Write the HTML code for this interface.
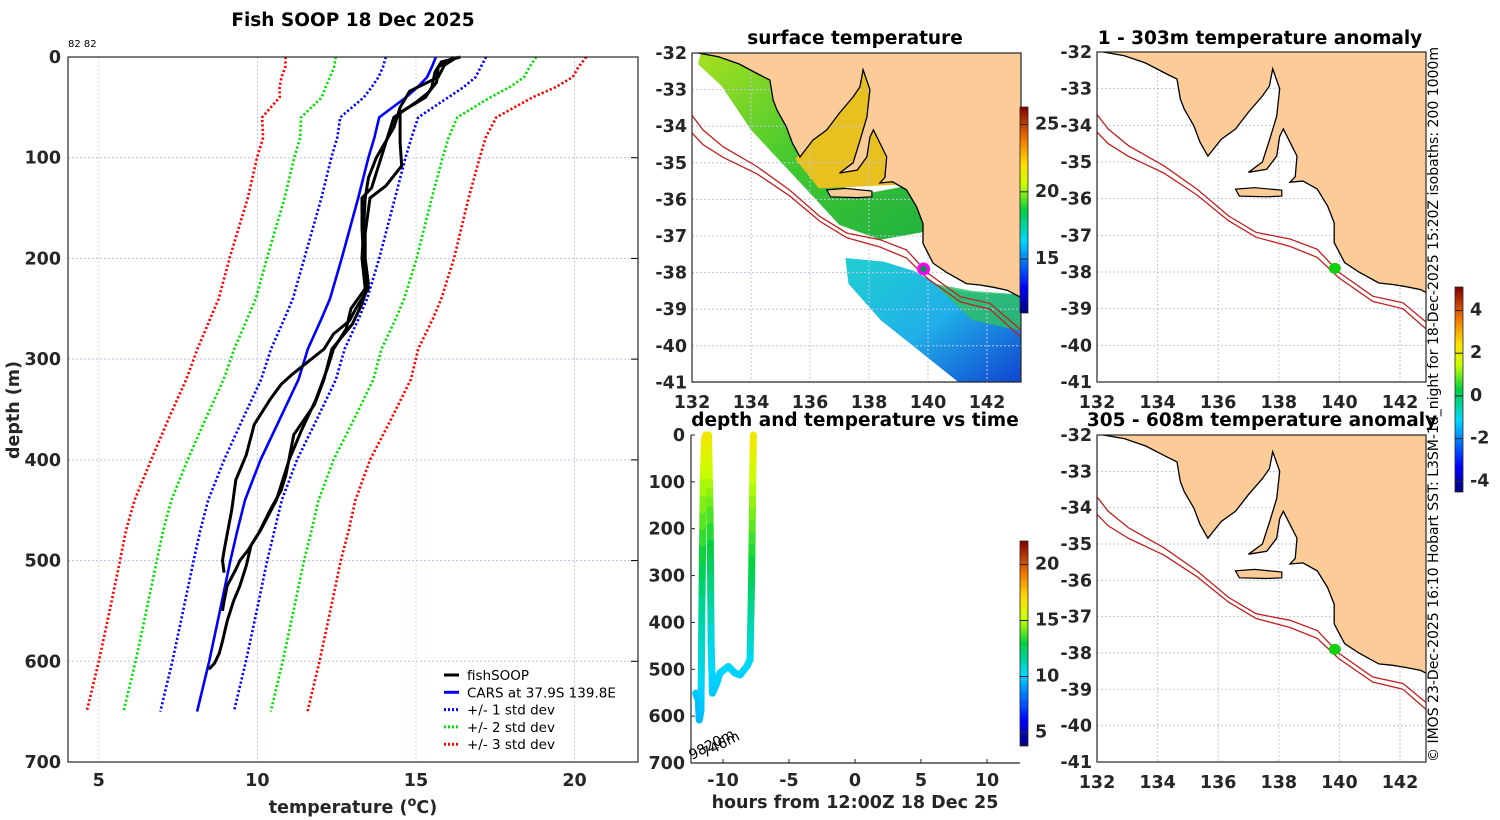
<!DOCTYPE html>
<html><head><meta charset="utf-8"><style>
html,body{margin:0;padding:0;background:#fff;}
svg{display:block;font-family:"DejaVu Sans","Liberation Sans",sans-serif;}
.tk{font-weight:bold;font-size:17.5px;fill:#262626;}
.ttl{font-weight:bold;font-size:18.5px;fill:#000;}
</style></head><body>
<svg id="fig" width="1500" height="820" viewBox="0 0 1500 820" xmlns="http://www.w3.org/2000/svg">
<defs>
<linearGradient id="jet" x1="0" y1="1" x2="0" y2="0">
<stop offset="0" stop-color="#00007f"/><stop offset="0.12" stop-color="#0000ff"/><stop offset="0.35" stop-color="#00d8ff"/><stop offset="0.5" stop-color="#00d040"/><stop offset="0.62" stop-color="#c8ff00"/><stop offset="0.72" stop-color="#ffe000"/><stop offset="0.85" stop-color="#f07000"/><stop offset="1" stop-color="#800000"/>
</linearGradient>
<linearGradient id="sstS" x1="0" y1="0" x2="1" y2="1">
<stop offset="0" stop-color="#20d0d0"/><stop offset="0.5" stop-color="#20b0e8"/><stop offset="1" stop-color="#1040d0"/>
</linearGradient>
<linearGradient id="sstN" x1="0" y1="0" x2="1" y2="1">
<stop offset="0" stop-color="#a8e020"/><stop offset="0.5" stop-color="#40c830"/><stop offset="1" stop-color="#20b040"/>
</linearGradient>
<clipPath id="clipM"><rect x="692" y="53" width="329" height="329"/></clipPath>
<clipPath id="clipR1"><rect x="1097" y="52" width="329" height="330"/></clipPath>
<clipPath id="clipR2"><rect x="1097" y="435" width="329" height="327"/></clipPath>
</defs>
<g id="root"></g>
</svg>
<script>
// ---------- profile data ----------
const depthGrid = [0,10,20,30,40,60,80,100,140,200,240,260,290,320,360,400,440,470,500,550,600,650];
const carsMean = [15.63,15.5,15.35,15.05,14.69,13.84,13.69,13.5,13.18,12.66,12.29,12.02,11.59,11.3,10.7,10.1,9.61,9.37,9.15,8.82,8.48,8.1];
const carsStd = [1.58,1.54,1.53,1.45,1.33,1.23,1.17,1.17,1.16,1.18,1.17,1.17,1.16,1.18,1.17,1.15,1.16,1.17,1.16,1.16,1.16,1.16];
const castADepth = [0,5,15,30,40,55,85,108,128,140,175,200,225,245,265,290,320,345,375,415,430,450,472,485,505,525,540,560,580,592,602,608];
const castATemp = [16.4,15.8,15.6,15.5,15.3,14.5,14.5,14.55,14.05,13.55,13.4,13.4,13.5,13.3,13.0,12.35,12.1,11.8,11.15,10.9,10.75,10.4,10.05,9.8,9.65,9.45,9.25,9.05,8.9,8.8,8.65,8.47];
const castBDepth = [0,8,20,34,50,70,100,120,140,170,200,230,250,270,290,310,340,370,400,440,470,490,500,510,525,540,550];
const castBTemp = [16.3,15.9,15.7,14.8,14.5,14.3,13.75,13.5,13.4,13.35,13.3,13.4,12.95,12.8,12.4,12.2,11.85,11.4,11.0,10.6,10.1,9.7,9.45,9.3,9.05,8.95,8.9];
const castCDepth = [0,10,25,35,45,60,80,100,130,140,170,200,230,250,262,275,290,305,315,325,340,365,395,420,450,472,490,500,512];
const castCTemp = [16.2,15.7,15.65,15.4,15.0,14.3,14.1,13.9,13.6,13.3,13.3,13.35,13.5,13.1,12.9,12.4,12.1,11.5,11.1,10.75,10.4,9.9,9.65,9.32,9.19,9.06,8.95,8.9,8.95];
const tempTicks = [5,10,15,20];
const depthTicks = [0,100,200,300,400,500,600,700];
// ---------- time track data ----------
const trackHours = [-12.07,-11.87,-11.8,-11.67,-11.6,-11.49,-11.4,-11.3,-11.1,-10.98,-10.9,-10.8,-10.48,-10.23,-9.6,-9.09,-8.71,-8.2,-7.95,-7.83,-7.75,-7.7];
const trackDepth = [551,565,608,587,373,89,10,0,0,160,444,551,530,508,494,508,512,494,480,303,100,0];
const trackTemp = [9.9,9.8,9.6,9.7,11.6,15.0,16.3,16.6,16.6,14.0,10.6,9.9,10.0,10.1,10.2,10.1,10.0,10.2,10.3,12.6,15.0,16.6];
const hourTicks = [-10,-5,0,5,10];
// ---------- map data ----------
const lonTicks = [132,134,136,138,140,142];
const latTicks = [-32,-33,-34,-35,-36,-37,-38,-39,-40,-41];
const coastLon = [131.9,132.2,132.9,133.6,134.3,134.64,134.75,134.88,135.2,135.4,135.66,136.1,136.57,137.0,137.46,137.69,137.8,138.03,137.93,137.7,137.46,137.0,137.6,137.93,138.03,138.15,138.37,138.6,138.54,138.37,138.8,139.27,139.61,139.83,139.83,140.17,140.64,141.3,141.76,142.2,142.68,143.2,143.2,131.9];
const coastLat = [-31.9,-32.0,-32.1,-32.3,-32.6,-32.74,-33.28,-33.56,-34.02,-34.46,-34.84,-34.38,-34.1,-33.64,-33.2,-32.93,-32.46,-33.0,-33.75,-34.38,-35.0,-35.28,-35.2,-34.84,-34.3,-34.1,-34.46,-34.84,-35.4,-35.55,-35.52,-35.74,-36.2,-36.66,-37.2,-37.74,-38.0,-38.3,-38.34,-38.4,-38.48,-38.7,-31.9,-31.9];
const kiLon = [136.57,137.2,138.1,138.1,137.6,136.7];
const kiLat = [-35.74,-35.7,-35.77,-35.93,-35.95,-35.93];
const isoLon = [131.9,132.37,133.05,134.2,135.3,136.34,137.25,138.37,139.27,139.97,141.1,142.1,143.2];
const iso200Lat = [-33.6,-34.1,-34.56,-35.1,-35.74,-36.47,-36.92,-37.1,-37.38,-38.0,-38.66,-38.84,-39.6];
const iso1000Lat = [-34.1,-34.5,-34.85,-35.3,-35.9,-36.6,-37.05,-37.3,-37.6,-38.15,-38.8,-39.0,-39.8];
const shipLon = [139.85];
const shipLat = [-37.9];
const sstColorTicks = [15,20,25];
const anomTicks = [-4,-2,0,2,4];
const trackColorTicks = [5,10,15,20];

const NS = "http://www.w3.org/2000/svg";
const root = document.getElementById('root');
function el(tag, attrs, parent){
  const e = document.createElementNS(NS, tag);
  for (const k in attrs) e.setAttribute(k, attrs[k]);
  (parent||root).appendChild(e);
  return e;
}
function txt(s, attrs, parent){ const t = el('text', attrs, parent); t.textContent = s; return t; }
function jet(v){
  const stops=[[0,[0,0,127]],[0.12,[0,0,255]],[0.35,[0,216,255]],[0.5,[0,208,64]],[0.62,[200,255,0]],[0.72,[255,224,0]],[0.85,[240,112,0]],[1,[128,0,0]]];
  v=Math.max(0,Math.min(1,v));
  for(let i=1;i<stops.length;i++){ if(v<=stops[i][0]){ const a=stops[i-1],b=stops[i],f=(v-a[0])/(b[0]-a[0]);
    return 'rgb('+a[1].map((c,j)=>Math.round(c+(b[1][j]-c)*f)).join(',')+')'; } }
  return 'rgb(128,0,0)';
}

// ================= LEFT PROFILE PANEL =================
const L = {x0:68,x1:638,y0:57,y1:762};
const tx = t => L.x0 + (t-4.03)*(L.x1-L.x0)/(22.0-4.03);
const dy = d => L.y0 + d*(L.y1-L.y0)/700;
const gL = el('g',{});


txt('Fish SOOP 18 Dec 2025',{x:353,y:26,'text-anchor':'middle',class:'ttl'},gL);
txt('82 82',{x:68,y:47,'font-size':'10',fill:'#000'},gL);
depthTicks.forEach(d=>{
  if(d>0&&d<700){ const g=el('line',{x1:L.x0,x2:L.x1,y1:dy(d),y2:dy(d),stroke:'#b8c0e8','stroke-width':1,'stroke-dasharray':'2,2'},gL);   }
  const t=txt(String(d),{x:L.x0-7,y:dy(d)+6,'text-anchor':'end',class:'tk'},gL);
  
  
  el('line',{x1:L.x1-7,x2:L.x1,y1:dy(d),y2:dy(d),stroke:'#000'},gL);
});
tempTicks.forEach((t,i)=>{
  const g=el('line',{x1:tx(t),x2:tx(t),y1:L.y0,y2:L.y1,stroke:i%2?'#c0c4e8':'#f0c8c8','stroke-width':1,'stroke-dasharray':'2,2'},gL);
  
  
  const l=txt(String(t),{x:tx(t),y:L.y1+24,'text-anchor':'middle',class:'tk'},gL);
  
  
});
const yl=txt('depth (m)',{x:0,y:0,transform:'translate(19,410) rotate(-90)','text-anchor':'middle',class:'tk','font-size':'18.5'},gL);

const xl=el('text',{x:353,y:813,'text-anchor':'middle',class:'tk','font-size':'18.5'},gL);
xl.innerHTML='temperature (<tspan dy="-7" font-size="13">o</tspan><tspan dy="7">C)</tspan>';

function poly(xs,ys){ return xs.map((x,i)=>x.toFixed(1)+','+ys[i].toFixed(1)).join(' '); }
const stdCol = ['#0000ff','#00e000','#ff0000'];
[1,2,3].forEach(k=>{
  [-1,1].forEach(s=>{
    const xs = carsMean.map((m,i)=>tx(m+s*k*carsStd[i]));
    const ys = depthGrid.map(dy);
    const p=el('polyline',{points:poly(xs,ys),fill:'none',stroke:stdCol[k-1],'stroke-width':2.6,'stroke-dasharray':'2.2,2.2'},gL);
    
    
  });
});
const cars=el('polyline',{points:poly(carsMean.map(tx),depthGrid.map(dy)),fill:'none',stroke:'#0000ff','stroke-width':2.6},gL);


[[castADepth,castATemp,'a'],[castBDepth,castBTemp,'b'],[castCDepth,castCTemp,'c']].forEach(c=>{
  const p=el('polyline',{points:poly(c[1].map(tx),c[0].map(dy)),fill:'none',stroke:'#000','stroke-width':3,'stroke-linejoin':'round'},gL);
  
  
});
el('rect',{x:L.x0,y:L.y0,width:L.x1-L.x0,height:L.y1-L.y0,fill:'none',stroke:'#262626','stroke-width':1.2},gL);
const leg=el('g',{},gL);


[['fishSOOP','#000',''],['CARS at 37.9S 139.8E','#0000ff',''],['+/- 1 std dev','#0000ff','2,2'],['+/- 2 std dev','#00e000','2,2'],['+/- 3 std dev','#ff0000','2,2']].forEach((e,i)=>{
  const y=675+i*17.3;
  el('line',{x1:444,x2:459,y1:y,y2:y,stroke:e[1],'stroke-width':3,'stroke-dasharray':e[2]||'none'},leg);
  const t=txt(e[0],{x:467,y:y+5,'font-size':'13.5',fill:'#000'},leg);
  
  
});

// ================= MAPS =================
function drawMap(g, X, Y, clip, box, withSST){
  if(withSST){
    const n=el('polygon',{points:poly([132.3,134.5,135.5,137.5,139.5,140.2,139.8,138.4,137,135.5,134,133,132.2].map(X),[-32,-32,-34.5,-35.9,-35.6,-36.5,-36.9,-37.1,-36.7,-35.4,-34.1,-32.9,-32.3].map(Y)),fill:'url(#sstN)','clip-path':clip},g);
    
    const gu=el('polygon',{points:poly([135.5,137.8,138.7,139,136.3].map(X),[-34.9,-32.3,-34,-35.6,-35.7].map(Y)),fill:'#e8c020','clip-path':clip},g);
    
    const s=el('polygon',{points:poly([137.2,138.5,139.5,140.5,141.5,143.2,143.2,141.2,139.8,138.4,137.3].map(X),[-37.6,-37.7,-37.95,-38.4,-38.55,-38.6,-41.1,-41.1,-40.2,-39.3,-38.3].map(Y)),fill:'url(#sstS)','clip-path':clip},g);
    
    const s2=el('polygon',{points:poly([140.2,141.5,143.2,143.2,141.5].map(X),[-38.3,-38.5,-38.6,-39.6,-39.3].map(Y)),fill:'#30c060','clip-path':clip,opacity:0.8},g);
    
  }
  lonTicks.forEach(l=>{ el('line',{x1:X(l),x2:X(l),y1:box.y0,y2:box.y1,stroke:'#c0c4e8','stroke-dasharray':'2,2'},g); });
  latTicks.forEach(l=>{ el('line',{x1:box.x0,x2:box.x1,y1:Y(l),y2:Y(l),stroke:'#c0c4e8','stroke-dasharray':'2,2'},g); });
  const land=el('polygon',{points:poly(coastLon.map(X),coastLat.map(Y)),fill:'#fccc98',stroke:'#000','stroke-width':1.3,'clip-path':clip},g);
  
  
  const ki=el('polygon',{points:poly(kiLon.map(X),kiLat.map(Y)),fill:'#fccc98',stroke:'#000','stroke-width':1.2},g);
  
  
  [iso200Lat,iso1000Lat].forEach((la,i)=>{
    const p=el('polyline',{points:poly(isoLon.map(X),la.map(Y)),fill:'none',stroke:'#c02020','stroke-width':1.3,'clip-path':clip},g);
    
    
  });
  el('rect',{x:box.x0,y:box.y0,width:box.x1-box.x0,height:box.y1-box.y0,fill:'none',stroke:'#262626','stroke-width':1.2},g);
  lonTicks.forEach(l=>{
    const t=txt(String(l),{x:X(l),y:box.y1+26,'text-anchor':'middle',class:'tk'},g);
    
    
  });
  latTicks.forEach(l=>{
    const t=txt(String(l),{x:box.x0-5,y:Y(l)+6,'text-anchor':'end',class:'tk'},g);
    
    
  });
}
const gM=el('g',{});


const MX = l => 692+(l-132)*29.5, MY = l => 53+(-32-l)*36.6;
drawMap(gM,MX,MY,'url(#clipM)',{x0:692,x1:1021,y0:53,y1:382},true);
txt('surface temperature',{x:855,y:44,'text-anchor':'middle',class:'ttl'},gM);
const ring=el('circle',{cx:MX(shipLon[0]),cy:MY(shipLat[0]),r:5,fill:'#208060',stroke:'#ff00ff','stroke-width':3},gM);


function colorbar(g,x,y0,y1,vmin,vmax,ticks,name){
  const r=el('rect',{x:x,y:y0,width:8,height:y1-y0,fill:'url(#jet)',stroke:'#262626','stroke-width':0.8},g);
  
  
  ticks.forEach(t=>{
    const y=y1-(t-vmin)/(vmax-vmin)*(y1-y0);
    el('line',{x1:x,x2:x+8,y1:y,y2:y,stroke:'#262626'},g);
    const l=txt(String(t),{x:x+15,y:y+5,class:'tk','font-size':'14'},g);
    
    
  });
}
colorbar(gM,1020,107,313,11.0,26.3,sstColorTicks,'sst-colorbar');

const gR=el('g',{});


const RX = l => 1097+(l-132)*30.3;
const RY1 = l => 52+(-32-l)*36.67, RY2 = l => 435+(-32-l)*36.33;
drawMap(gR,RX,RY1,'url(#clipR1)',{x0:1097,x1:1426,y0:52,y1:382},false);
drawMap(gR,RX,RY2,'url(#clipR2)',{x0:1097,x1:1426,y0:435,y1:762},false);
txt('1 - 303m temperature anomaly',{x:1260,y:44,'text-anchor':'middle',class:'ttl'},gR);
txt('305 - 608m temperature anomaly',{x:1262,y:426,'text-anchor':'middle',class:'ttl'},gR);
[RY1,RY2].forEach((Y,i)=>{
  const d=el('ellipse',{cx:RX(shipLon[0]),cy:Y(shipLat[0]),rx:6,ry:5.5,fill:'#10d010'},gR);
  
  
});
colorbar(gR,1455,287,492,-4.5,5.1,anomTicks,'anomaly-colorbar');
const cr=txt('© IMOS 23-Dec-2025 16:10 Hobart SST: L3SM-1d_night for 18-Dec-2025 15:20Z isobaths: 200  1000m',{x:0,y:0,transform:'translate(1438,762) rotate(-90)','font-size':'14',fill:'#000',textLength:715,lengthAdjust:'spacingAndGlyphs'},gR);



// ================= TIME PANEL =================
const gT=el('g',{});


const T={x0:691,x1:1020,y0:435,y1:763};
const hx = h => 855 + h*13.2;
const ty = d => T.y0 + d*(T.y1-T.y0)/700;
txt('depth and temperature vs time',{x:855,y:426,'text-anchor':'middle',class:'ttl'},gT);
for(let i=1;i<trackHours.length;i++){
  const n=8;
  for(let k=0;k<n;k++){
    const f0=k/n,f1=(k+1)/n;
    const h0=trackHours[i-1]+(trackHours[i]-trackHours[i-1])*f0, h1=trackHours[i-1]+(trackHours[i]-trackHours[i-1])*f1;
    const d0=trackDepth[i-1]+(trackDepth[i]-trackDepth[i-1])*f0, d1=trackDepth[i-1]+(trackDepth[i]-trackDepth[i-1])*f1;
    const tm=trackTemp[i-1]+(trackTemp[i]-trackTemp[i-1])*(f0+f1)/2;
    const s=el('line',{x1:hx(h0),y1:ty(d0),x2:hx(h1),y2:ty(d1),stroke:jet((tm-3.8)/18.3),'stroke-width':7,'stroke-linecap':'round'},gT);
    
    
  }
}
el('line',{x1:T.x0,x2:T.x0,y1:T.y0,y2:T.y1,stroke:'#262626','stroke-width':1.2},gT);
el('line',{x1:T.x0,x2:T.x1,y1:T.y1,y2:T.y1,stroke:'#262626','stroke-width':1.2},gT);
depthTicks.forEach(d=>{
  el('line',{x1:T.x0,x2:T.x0+4,y1:ty(d),y2:ty(d),stroke:'#262626'},gT);
  const t=txt(String(d),{x:T.x0-6,y:ty(d)+6,'text-anchor':'end',class:'tk'},gT);
  
  
});
hourTicks.forEach(h=>{
  el('line',{x1:hx(h),x2:hx(h),y1:T.y1,y2:T.y1-4,stroke:'#262626'},gT);
  const t=txt(String(h),{x:hx(h),y:T.y1+23,'text-anchor':'middle',class:'tk'},gT);
  
  
});
txt('hours from 12:00Z 18 Dec 25',{x:855,y:808,'text-anchor':'middle',class:'tk','font-size':'18.5'},gT);
txt('9820m',{x:0,y:0,transform:'translate(692,760) rotate(-28)','font-size':'14',fill:'#000'},gT);
txt('746m',{x:0,y:0,transform:'translate(705,758) rotate(-28)','font-size':'14',fill:'#000'},gT);
colorbar(gT,1020,541,746,3.8,22.1,trackColorTicks,'track-colorbar');
</script>
</body></html>
